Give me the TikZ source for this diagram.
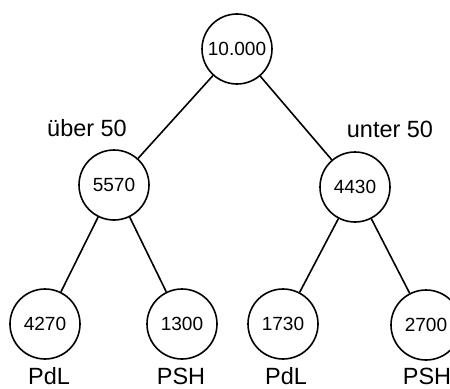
\documentclass[tikz,border=0pt]{standalone}
\usepackage{fontspec}
\setmainfont{Liberation Sans}
\usetikzlibrary{positioning}

\tikzset{knoten/.style={circle,draw,line width=1.2pt,minimum size=52.5pt,inner sep=0pt,font=\fontsize{14.3}{16}\selectfont},
  marke/.style={inner sep=0pt,font=\fontsize{17.6}{20}\selectfont}}

\begin{document}
\begin{tikzpicture}[x=0.75pt,y=-0.75pt,line width=1.2pt]
\useasboundingbox (0,0) rectangle (450,389);
\node[knoten] (root) at (237,49) {10.000};
\node[knoten] (ueber) at (114,185) {5570};
\node[knoten] (unter) at (355,187) {4430};
\node[knoten] (ll) at (45,324) {4270};
\node[knoten] (lr) at (182,324) {1300};
\node[knoten] (rl) at (283,324) {1730};
\node[knoten] (rr) at (426,325) {2700};
\draw (root) -- (ueber);
\draw (root) -- (unter);
\draw (ueber) -- (ll);
\draw (ueber) -- (lr);
\draw (unter) -- (rl);
\draw (unter) -- (rr);
\node[marke] (tueber) at (87,128) {über 50};
\node[marke] (tunter) at (390,129) {unter 50};
\node[marke] (tll) at (49,376) {PdL};
\node[marke] (tlr) at (181,376) {PSH};
\node[marke] (trl) at (286,376) {PdL};
\node[marke] (trr) at (427,376) {PSH};
\end{tikzpicture}
\end{document}
